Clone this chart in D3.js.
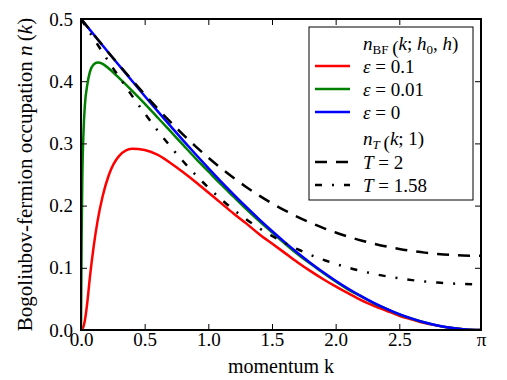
<!DOCTYPE html>
<html>
<head>
<meta charset="utf-8">
<script src="https://cdn.jsdelivr.net/npm/d3@7"></script>
<style>
  body { margin: 0; background: #fff; }
</style>
</head>
<body>
<svg id="chart" width="507" height="380"></svg>
<script>
// momentum grid (last point is pi)
const kValues = [0, 0.005, 0.01, 0.02, 0.03, 0.05, 0.07, 0.1, 0.13, 0.17, 0.22, 0.3, 0.4,
  0.5, 0.6, 0.7, 0.8, 0.9, 1.0, 1.1, 1.2, 1.3, 1.4, 1.5, 1.6, 1.7, 1.8, 1.9, 2.0,
  2.1, 2.2, 2.3, 2.4, 2.5, 2.6, 2.7, 2.8, 2.9, 3.0, 3.1, Math.PI];

const nEps01 = [0, 0.001, 0.002, 0.006, 0.015, 0.045, 0.085, 0.135, 0.175, 0.215, 0.25, 0.28, 0.2915,
  0.2895, 0.282, 0.269, 0.254, 0.238, 0.221, 0.204, 0.187, 0.171, 0.154, 0.139, 0.124, 0.109, 0.095, 0.082, 0.07,
  0.059, 0.048, 0.039, 0.031, 0.023, 0.017, 0.011, 0.007, 0.0035, 0.0012, 0.0001, 0];

const nEps001 = [0, 0.15, 0.24, 0.32, 0.36, 0.395, 0.415, 0.427, 0.43, 0.428, 0.42, 0.405, 0.385,
  0.364, 0.342, 0.32, 0.298, 0.276, 0.255, 0.234, 0.214, 0.194, 0.175, 0.157, 0.139, 0.122, 0.107, 0.092, 0.078,
  0.065, 0.054, 0.043, 0.034, 0.025, 0.018, 0.012, 0.007, 0.0035, 0.0012, 0.0001, 0];

const nEps0 = [0.5, 0.4988, 0.4975, 0.495, 0.4925, 0.4875, 0.4825, 0.475, 0.4675, 0.4575, 0.445, 0.4253, 0.4007,
  0.3763, 0.3522, 0.3286, 0.3053, 0.2825, 0.2603, 0.2386, 0.2177, 0.1974, 0.1779, 0.1592, 0.1413, 0.1243, 0.1083, 0.0933, 0.0793,
  0.0663, 0.0544, 0.0436, 0.034, 0.0255, 0.0182, 0.0121, 0.0073, 0.0036, 0.0012, 0.0001, 0];

const nT2 = [0.5, 0.4988, 0.4975, 0.495, 0.4925, 0.4875, 0.4825, 0.475, 0.4675, 0.4575, 0.445, 0.4258, 0.402,
  0.3788, 0.3564, 0.335, 0.3146, 0.2953, 0.2771, 0.2601, 0.2443, 0.2296, 0.2161, 0.2037, 0.1924, 0.182, 0.1727, 0.1643, 0.1567,
  0.15, 0.144, 0.1388, 0.1342, 0.1303, 0.1271, 0.1244, 0.1223, 0.1207, 0.1197, 0.1193, 0.1192];

const nT158 = [0.5, 0.4984, 0.4968, 0.4937, 0.4905, 0.4842, 0.4779, 0.4684, 0.459, 0.4463, 0.4306, 0.4065, 0.3768,
  0.3483, 0.3212, 0.2956, 0.2717, 0.2495, 0.2291, 0.2103, 0.1932, 0.1777, 0.1637, 0.1512, 0.1399, 0.1299, 0.121, 0.1131, 0.1062,
  0.1001, 0.0948, 0.0902, 0.0863, 0.083, 0.0802, 0.078, 0.0762, 0.0749, 0.0741, 0.0737, 0.0737];

const xTicks = [0, 0.5, 1.0, 1.5, 2.0, 2.5, Math.PI];
const yTicks = [0, 0.1, 0.2, 0.3, 0.4, 0.5];

const series = [
  { values: nEps01, color: "#ff0000", dash: null, label: "0.1", group: "bf" },
  { values: nEps001, color: "#008000", dash: null, label: "0.01", group: "bf" },
  { values: nEps0, color: "#0000ff", dash: null, label: "0", group: "bf" },
  { values: nT2, color: "#000", dash: "12,9", label: "2", group: "t" },
  { values: nT158, color: "#000", dash: "7,10,2,10", label: "1.58", group: "t" }
];

const svg = d3.select("#chart");
const pLeft = 81, pRight = 481, pTop = 19, pBottom = 330;

const x = d3.scaleLinear().domain([0, Math.PI]).range([pLeft, pRight]);
const y = d3.scaleLinear().domain([0, 0.5]).range([pBottom, pTop]);

svg.append("clipPath").attr("id", "clip")
   .append("rect")
   .attr("x", pLeft).attr("y", pTop)
   .attr("width", pRight - pLeft).attr("height", pBottom - pTop);

// curves
const line = d3.line()
  .x((d, i) => x(kValues[i]))
  .y(d => y(d))
  .curve(d3.curveMonotoneX);

svg.append("g").attr("clip-path", "url(#clip)")
   .selectAll("path")
   .data(series)
   .enter().append("path")
   .attr("d", d => line(d.values))
   .attr("fill", "none")
   .attr("stroke", d => d.color)
   .attr("stroke-width", 2.5)
   .attr("stroke-dasharray", d => d.dash);

// axes, ticks pointing inward
const fmtX = d => d === Math.PI ? "π" : d.toFixed(1);

svg.append("g").attr("transform", `translate(0,${pBottom})`)
  .call(d3.axisBottom(x).tickValues(xTicks).tickFormat(fmtX).tickSizeInner(-6).tickSizeOuter(0).tickPadding(2));
svg.append("g").attr("transform", `translate(0,${pTop})`)
  .call(d3.axisTop(x).tickValues(xTicks).tickFormat("").tickSizeInner(-6).tickSizeOuter(0));
svg.append("g").attr("transform", `translate(${pLeft},0)`)
  .call(d3.axisLeft(y).tickValues(yTicks).tickFormat(d3.format(".1f")).tickSizeInner(-6).tickSizeOuter(0).tickPadding(8));
svg.append("g").attr("transform", `translate(${pRight},0)`)
  .call(d3.axisRight(y).tickValues(yTicks).tickFormat("").tickSizeInner(-6).tickSizeOuter(0));

svg.selectAll(".domain").remove();
svg.selectAll("g").attr("font-family", null);
svg.selectAll(".tick line").attr("stroke", "#000").attr("stroke-width", 1);
svg.selectAll(".tick text").style("font-size", "19px");

svg.append("rect")
   .attr("x", pLeft).attr("y", pTop)
   .attr("width", pRight - pLeft).attr("height", pBottom - pTop)
   .attr("fill", "none").attr("stroke", "#000").attr("stroke-width", 2);

// axis labels
svg.append("text")
   .attr("x", (pLeft + pRight) / 2).attr("y", 373)
   .attr("text-anchor", "middle")
   .style("font-size", "20px")
   .text("momentum k");

const yl = svg.append("text")
   .attr("transform", `translate(32,${(pTop + pBottom) / 2}) rotate(-90)`)
   .attr("text-anchor", "middle")
   .style("font-size", "21px");
yl.append("tspan").text("Bogoliubov-fermion occupation ");
yl.append("tspan").style("font-style", "italic").text("n");
yl.append("tspan").text("\u2009(");
yl.append("tspan").style("font-style", "italic").text("k");
yl.append("tspan").text(")");

// legend
const lg = svg.append("g");
lg.append("rect")
  .attr("x", 309).attr("y", 27).attr("width", 164).attr("height", 173)
  .attr("fill", "#fff").attr("stroke", "#000").attr("stroke-width", 1);

const rowY = [43, 66, 89, 112, 138, 162, 185];
const textX = 363;

function title(yy, parts) {
  const t = lg.append("text").attr("x", textX).attr("y", yy).attr("dy", "0.35em").style("font-size", "19px");
  t.append("tspan").style("font-style", "italic").text("n");
  parts.sub(t);
  t.append("tspan").text("\u2009(");
  parts.body(t);
  t.append("tspan").text(")");
}

title(rowY[0], {
  sub: t => t.append("tspan").attr("dy", "4").style("font-size", "13px").text("BF"),
  body: t => {
    t.append("tspan").attr("dy", "-4").style("font-style", "italic").text("k");
    t.append("tspan").text("; ");
    t.append("tspan").style("font-style", "italic").text("h");
    t.append("tspan").attr("dy", "4").style("font-size", "13px").text("0");
    t.append("tspan").attr("dy", "-4").text(", ");
    t.append("tspan").style("font-style", "italic").text("h");
  }
});
title(rowY[4], {
  sub: t => t.append("tspan").attr("dy", "4").style("font-size", "13px").style("font-style", "italic").text("T"),
  body: t => {
    t.append("tspan").attr("dy", "-4").style("font-style", "italic").text("k");
    t.append("tspan").text("; 1");
  }
});

const rows = [rowY[1], rowY[2], rowY[3], rowY[5], rowY[6]];
series.forEach((s, i) => {
  const yy = rows[i];
  lg.append("line")
    .attr("x1", 315).attr("x2", 350).attr("y1", yy).attr("y2", yy)
    .attr("stroke", s.color).attr("stroke-width", 2.5)
    .attr("stroke-dasharray", s.dash);
  const t = lg.append("text").attr("x", textX).attr("y", yy).attr("dy", "0.35em").style("font-size", "19px");
  t.append("tspan").style("font-style", "italic").text(s.group === "bf" ? "ε" : "T");
  t.append("tspan").text(" = " + s.label);
});

svg.selectAll("text").style("font-family", "'Liberation Serif'").attr("fill", "#000");
</script>
</body>
</html>
